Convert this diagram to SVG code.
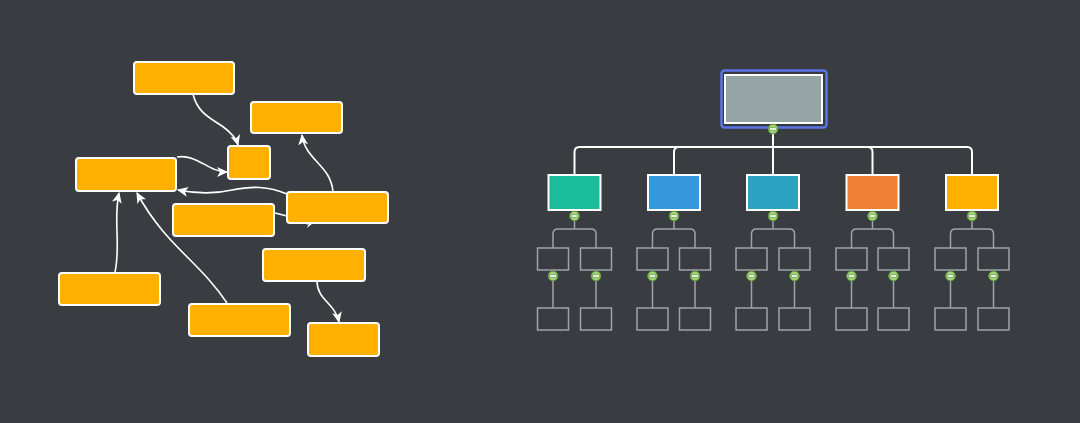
<svg xmlns="http://www.w3.org/2000/svg" xmlns:xlink="http://www.w3.org/1999/xlink" width="1080" height="423" viewBox="0 0 1080 423">
<style>
.n{fill:#ffb000;stroke:#fff;stroke-width:2}
.c{fill:none;stroke:#fff;stroke-width:1.6}
.m{fill:none;stroke:#fff;stroke-width:2}
.s{fill:none;stroke:#a0a4a8;stroke-width:1.5}
.b{fill:none;stroke:#a0a4a8;stroke-width:1.5}
.k{stroke:#fff;stroke-width:2}
</style>
<defs>
<marker id="arr" viewBox="0 0 10 10" refX="9" refY="5" markerWidth="11" markerHeight="11" markerUnits="userSpaceOnUse" orient="auto">
<path d="M0,0.5 L10,5 L0,9.5 L2.5,5 Z" fill="#fff"/>
</marker>
<g id="tog">
<circle r="4.8" fill="#a3d27a" stroke="#5f9f35" stroke-width="1"/>
<rect x="-3.3" y="-1.1" width="6.6" height="2.2" fill="#fff" stroke="#4c7f2c" stroke-width="0.5"/>
</g>
</defs>
<rect width="1080" height="423" fill="#393d42"/>

<g id="connectors">
<path class="c" d="M250,210 C258,211 265,211 275,213 L287,216 C296,219 302,221 308,224"/>
<polygon points="307,228 313,223 309,223" fill="#fff"/>
<path class="c" marker-end="url(#arr)" d="M193,94 C197,112 210,118 222,126 C232,133 236,138 238,145"/>
<path class="c" marker-end="url(#arr)" d="M177,157 C198,154 208,172 227,172"/>
<path class="c" marker-end="url(#arr)" d="M333,192 C331,165 305,160 302,135"/>
<path class="c" marker-end="url(#arr)" d="M287,194 C268,186 252,186 232,190 C215,194 198,194 178,190"/>
<path class="c" marker-end="url(#arr)" d="M115,272 C121,245 113,220 119,193"/>
<path class="c" marker-end="url(#arr)" d="M227,303 C200,262 165,245 137,193"/>
<path class="c" marker-end="url(#arr)" d="M317,281 C317,300 335,303 339,322"/>

<path class="m" d="M773,128 V175"/>
<path class="m" d="M773,147 H579.5 Q574.5,147 574.5,152 V175"/>
<path class="m" d="M773,147 H679 Q674,147 674,152 V175"/>
<path class="m" d="M773,147 H867.5 Q872.5,147 872.5,152 V175"/>
<path class="m" d="M773,147 H967 Q972,147 972,152 V175"/>

<path class="s" d="M574.5,216 V229 M574.5,229 H558 Q553,229 553,234 V248 M574.5,229 H591 Q596,229 596,234 V248 M553,276 V308 M596,276 V308"/>
<path class="s" d="M674,216 V229 M674,229 H657.5 Q652.5,229 652.5,234 V248 M674,229 H690 Q695,229 695,234 V248 M652.5,276 V308 M695,276 V308"/>
<path class="s" d="M773,216 V229 M773,229 H756.5 Q751.5,229 751.5,234 V248 M773,229 H789.5 Q794.5,229 794.5,234 V248 M751.5,276 V308 M794.5,276 V308"/>
<path class="s" d="M872.5,216 V229 M872.5,229 H856.5 Q851.5,229 851.5,234 V248 M872.5,229 H888.5 Q893.5,229 893.5,234 V248 M851.5,276 V308 M893.5,276 V308"/>
<path class="s" d="M972,216 V229 M972,229 H955.5 Q950.5,229 950.5,234 V248 M972,229 H988.5 Q993.5,229 993.5,234 V248 M950.5,276 V308 M993.5,276 V308"/>
</g>

<g id="nodeA"><rect class="n" x="134" y="62" width="100" height="32" rx="3"/></g>
<g id="nodeB"><rect class="n" x="251" y="102" width="91" height="31" rx="3"/></g>
<g id="nodeC"><rect class="n" x="228" y="146" width="42" height="33" rx="3"/></g>
<g id="nodeD"><rect class="n" x="76" y="158" width="100" height="33" rx="3"/></g>
<g id="nodeF"><rect class="n" x="173" y="204" width="101" height="32" rx="3"/></g>
<g id="nodeE"><rect class="n" x="287" y="192" width="101" height="31" rx="3"/></g>
<g id="nodeG"><rect class="n" x="263" y="249" width="102" height="32" rx="3"/></g>
<g id="nodeH"><rect class="n" x="59" y="273" width="101" height="32" rx="3"/></g>
<g id="nodeI"><rect class="n" x="189" y="304" width="101" height="32" rx="3"/></g>
<g id="nodeJ"><rect class="n" x="308" y="323" width="71" height="33" rx="3"/></g>

<g id="root">
<rect x="721.5" y="70.5" width="105" height="57" rx="3" fill="#353a40" stroke="#5b74e8" stroke-width="2.5"/>
<rect x="725" y="75" width="97" height="48" fill="#95a5a6" class="k" stroke-width="2.5"/>
<use xlink:href="#tog" x="773" y="129"/>
</g>

<g id="child1"><rect x="548.5" y="175" width="52" height="35" fill="#1abc9c" class="k"/><use xlink:href="#tog" x="574.5" y="216"/></g>
<g id="child2"><rect x="648" y="175" width="52" height="35" fill="#3498db" class="k"/><use xlink:href="#tog" x="674" y="216"/></g>
<g id="child3"><rect x="747" y="175" width="52" height="35" fill="#2aa2c0" class="k"/><use xlink:href="#tog" x="773" y="216"/></g>
<g id="child4"><rect x="846.5" y="175" width="52" height="35" fill="#ef7f35" class="k"/><use xlink:href="#tog" x="872.5" y="216"/></g>
<g id="child5"><rect x="946" y="175" width="52" height="35" fill="#ffb000" class="k"/><use xlink:href="#tog" x="972" y="216"/></g>

<g id="sub1a"><rect class="b" x="537.5" y="248" width="31" height="22"/><use xlink:href="#tog" x="553" y="276"/></g>
<g id="sub1b"><rect class="b" x="580.5" y="248" width="31" height="22"/><use xlink:href="#tog" x="596" y="276"/></g>
<g id="sub2a"><rect class="b" x="637" y="248" width="31" height="22"/><use xlink:href="#tog" x="652.5" y="276"/></g>
<g id="sub2b"><rect class="b" x="679.5" y="248" width="31" height="22"/><use xlink:href="#tog" x="695" y="276"/></g>
<g id="sub3a"><rect class="b" x="736" y="248" width="31" height="22"/><use xlink:href="#tog" x="751.5" y="276"/></g>
<g id="sub3b"><rect class="b" x="779" y="248" width="31" height="22"/><use xlink:href="#tog" x="794.5" y="276"/></g>
<g id="sub4a"><rect class="b" x="836" y="248" width="31" height="22"/><use xlink:href="#tog" x="851.5" y="276"/></g>
<g id="sub4b"><rect class="b" x="878" y="248" width="31" height="22"/><use xlink:href="#tog" x="893.5" y="276"/></g>
<g id="sub5a"><rect class="b" x="935" y="248" width="31" height="22"/><use xlink:href="#tog" x="950.5" y="276"/></g>
<g id="sub5b"><rect class="b" x="978" y="248" width="31" height="22"/><use xlink:href="#tog" x="993.5" y="276"/></g>

<g id="leaf1a"><rect class="b" x="537.5" y="308" width="31" height="22"/></g>
<g id="leaf1b"><rect class="b" x="580.5" y="308" width="31" height="22"/></g>
<g id="leaf2a"><rect class="b" x="637" y="308" width="31" height="22"/></g>
<g id="leaf2b"><rect class="b" x="679.5" y="308" width="31" height="22"/></g>
<g id="leaf3a"><rect class="b" x="736" y="308" width="31" height="22"/></g>
<g id="leaf3b"><rect class="b" x="779" y="308" width="31" height="22"/></g>
<g id="leaf4a"><rect class="b" x="836" y="308" width="31" height="22"/></g>
<g id="leaf4b"><rect class="b" x="878" y="308" width="31" height="22"/></g>
<g id="leaf5a"><rect class="b" x="935" y="308" width="31" height="22"/></g>
<g id="leaf5b"><rect class="b" x="978" y="308" width="31" height="22"/></g>
</svg>
